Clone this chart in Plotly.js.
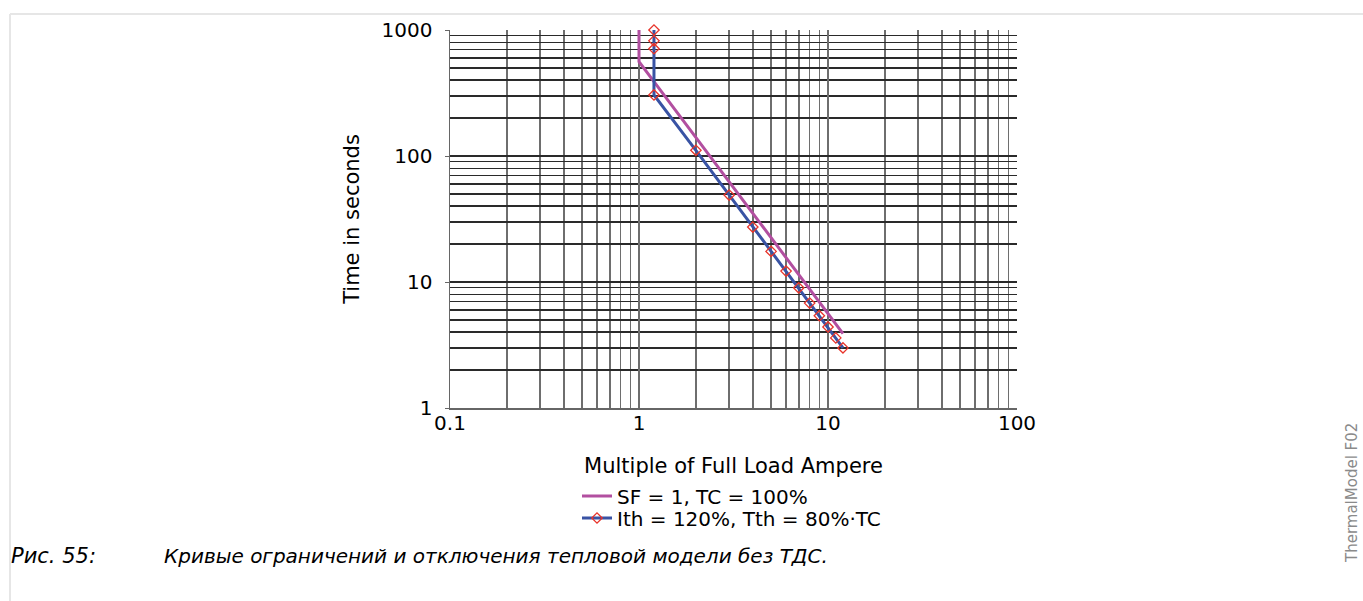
<!DOCTYPE html>
<html>
<head>
<meta charset="utf-8">
<script src="https://cdn.plot.ly/plotly-3.0.1.min.js"></script>
<style>
  html, body { margin: 0; padding: 0; background: #ffffff; }
  #chart { width: 1363px; height: 601px; }
</style>
</head>
<body>
<div id="chart"></div>
<script>
// ---- data ----
const SERIES_NAMES = ['SF = 1, TC = 100%', 'Ith = 120%, Tth = 80%·TC'];
const MAG_X = [1, 1, 1.2, 2, 3, 5, 8, 12];
const MAG_Y = [1000, 560, 390, 140, 62, 22.5, 8.8, 3.9];
const BLUE_X = [1.2, 1.2, 1.2, 1.2, 2, 3, 4, 5, 6, 7, 8, 9, 10, 11, 12];
const BLUE_Y = [1000, 820, 710, 305, 111, 49, 27.3, 17.5, 12.2, 9.0, 6.8, 5.4, 4.4, 3.6, 3.0];
const X_TICKS = [0.1, 1, 10, 100];
const X_LABELS = ['0.1', '1', '10', '100'];
const Y_TICKS = [1, 10, 100, 1000];
const Y_LABELS = ['1', '10', '100', '1000'];
const X_TITLE = 'Multiple of Full Load Ampere';
const Y_TITLE = 'Time in seconds';
const CAPTION_NUM = 'Рис. 55:';
const CAPTION_TEXT = 'Кривые ограничений и отключения тепловой модели без ТДС.';
const SIDE_LABEL = 'ThermalModel F02';

// ---- layout geometry ----
const W = 1363, H = 601;
const M = {l: 450, r: 346, t: 30, b: 193};
const PW = W - M.l - M.r, PH = H - M.t - M.b;
const px = x => (x - M.l) / PW;
const py = y => (H - M.b - y) / PH;

const FONT = 'DejaVu Sans, Verdana, sans-serif';

const traces = [
  {
    x: MAG_X, y: MAG_Y, name: SERIES_NAMES[0], type: 'scatter', mode: 'lines',
    line: {color: '#b24fa0', width: 3}, legend: 'legend', cliponaxis: false
  },
  {
    x: BLUE_X, y: BLUE_Y, name: SERIES_NAMES[1], type: 'scatter', mode: 'lines+markers',
    line: {color: '#3953a4', width: 3},
    marker: {symbol: 'diamond-open', size: 8, color: '#e8332a', line: {width: 1.3, color: '#e8332a'}},
    legend: 'legend2', cliponaxis: false
  }
];

const axisCommon = {
  type: 'log', showline: true, linecolor: '#666', linewidth: 1.5,
  tickfont: {family: FONT, size: 20, color: '#000'},
  tickmode: 'array', zeroline: false
};

const layout = {
  width: W, height: H, margin: M,
  paper_bgcolor: 'rgba(0,0,0,0)', plot_bgcolor: 'rgba(0,0,0,0)',
  font: {family: FONT, size: 20, color: '#000'},
  xaxis: Object.assign({}, axisCommon, {
    range: [-1, 2], tickvals: X_TICKS, ticktext: X_LABELS,
    ticks: '', ticklabelstandoff: -4, showgrid: true, gridcolor: '#6e6e6e', gridwidth: 1.6,
    minor: {dtick: 'D1', showgrid: true, gridcolor: '#6e6e6e', gridwidth: 1.6, ticks: ''},
    title: {text: X_TITLE, font: {family: FONT, size: 21}, standoff: 25}
  }),
  yaxis: Object.assign({}, axisCommon, {
    range: [0, 3], tickvals: Y_TICKS, ticktext: Y_LABELS,
    ticks: 'outside', ticklen: 4, tickcolor: '#666', ticklabelstandoff: 8,
    showgrid: true, gridcolor: '#2a2a2a', gridwidth: 1.3,
    minor: {dtick: 'D1', showgrid: true, gridcolor: '#2a2a2a', gridwidth: 1.3, ticks: ''},
    title: {text: Y_TITLE, font: {family: FONT, size: 21}, standoff: 16}
  }),
  showlegend: true,
  legend: {
    x: px(577), y: py(496), xanchor: 'left', yanchor: 'middle',
    bgcolor: 'rgba(0,0,0,0)', font: {family: FONT, size: 20}, itemwidth: 30
  },
  legend2: {
    x: px(577), y: py(518), xanchor: 'left', yanchor: 'middle',
    bgcolor: 'rgba(0,0,0,0)', font: {family: FONT, size: 20}, itemwidth: 30
  },
  shapes: [
    {type: 'line', xref: 'paper', yref: 'paper', x0: px(10), x1: px(1363), y0: py(14), y1: py(14),
     line: {color: '#e6e6e6', width: 2}},
    {type: 'line', xref: 'paper', yref: 'paper', x0: px(10), x1: px(10), y0: py(14), y1: py(601),
     line: {color: '#e6e6e6', width: 2}}
  ],
  annotations: [
    {text: CAPTION_NUM, xref: 'paper', yref: 'paper', x: px(9), y: py(556), xanchor: 'left', yanchor: 'middle',
     showarrow: false, font: {family: FONT, size: 21, style: 'italic', color: '#000'}},
    {text: CAPTION_TEXT, xref: 'paper', yref: 'paper', x: px(162), y: py(556), xanchor: 'left', yanchor: 'middle',
     showarrow: false, font: {family: FONT, size: 20, style: 'italic', color: '#000'}},
    {text: SIDE_LABEL, xref: 'paper', yref: 'paper', x: px(1352), y: py(493), xanchor: 'center', yanchor: 'middle',
     textangle: -90, showarrow: false, font: {family: FONT, size: 15, color: '#8a8a8a'}}
  ]
};

Plotly.newPlot('chart', traces, layout, {displayModeBar: false, staticPlot: true});
</script>
</body>
</html>
